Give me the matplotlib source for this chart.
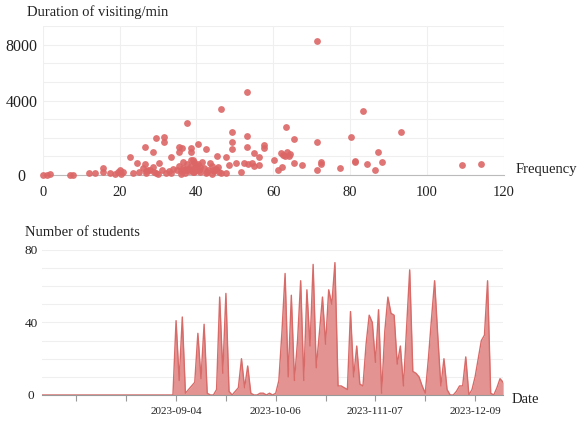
import numpy as np
import matplotlib.pyplot as plt

plt.rcParams["font.family"] = ["Liberation Serif", "DejaVu Serif"]

# ---- top chart: frequency vs duration (min) ----
freq = [0, 1, 2, 7, 8, 12, 13.5, 15.7, 15.7, 17.4, 18.7, 19.6, 20, 20.5, 21,
        22.6, 24.5, 23.4, 26.5, 26, 26.5, 27, 27.5, 26.8, 28.6, 29.5, 31.5, 31.5,
        28.6, 29.5, 30.3, 32, 33.5, 33.5, 35.5, 36.2, 35.5,
        35, 35.5, 36, 36.5, 37, 37.5, 36, 37.5, 38.5, 38.5, 38.5,
        38, 38.5, 39, 39.5, 40, 40.5, 41, 39, 40, 40.4, 42.4,
        41.5, 42, 43, 44, 44.5, 45, 46, 45.5, 43.5, 45.4, 46.5,
        47.6, 48.4, 46.3, 47.6, 49.3, 49.3, 49.3, 50.3, 51.5, 53.2, 53.2, 53.2,
        52.3, 53.5, 54.5, 55, 54.9, 56.2, 56.2, 57.5, 57.5, 60.1, 61.2,
        62, 62.5, 63, 63.5, 64, 64.5, 63.3, 62.2, 65.3, 65.3, 67.4,
        71.4, 71.4, 71.4, 72.4, 72.4, 77.3, 80.3, 81.4, 81.4, 83.4, 84.3,
        86.4, 87.2, 88.4, 93.3, 109.2, 114.2,
        25, 28, 30, 34, 37, 39.5, 41, 42.5, 44, 36.5, 38, 40, 33, 31, 29,
        36.8, 37.8, 39.2, 40.8, 42.8, 44.2]
duration = [20, 30, 40, 10, 20, 120, 90, 360, 180, 90, 50, 180, 270, 40, 150,
            950, 630, 90, 1520, 400, 600, 200, 300, 100, 1250, 1970, 2030, 1790,
            450, 90, 630, 90, 990, 90, 1520, 1430, 1250,
            300, 500, 200, 400, 100, 600, 50, 2810, 1430, 1250, 800,
            200, 500, 350, 700, 300, 600, 150, 800, 450, 1670, 1380,
            700, 400, 250, 500, 200, 350, 150, 450, 650, 1020, 3550,
            990, 540, 130, 90, 2330, 1760, 1400, 660, 140, 4640, 2100, 1520,
            630, 600, 650, 500, 1200, 990, 540, 1610, 1430, 810, 300,
            1200, 1100, 1050, 1250, 1000, 1150, 2560, 450, 1920, 660, 540,
            8250, 1760, 250, 680, 590, 390, 2060, 750, 680, 3460, 590,
            290, 1240, 700, 2310, 560, 590,
            150, 250, 60, 350, 250, 150, 420, 100, 80, 700, 350, 550, 200, 300, 150,
            250, 350, 150, 250, 150, 300]

x_ticks_top = [0, 20, 40, 60, 80, 100, 120]
y_ticks_top = [0, 4000, 8000]

# ---- bottom chart: daily number of students ----
start_date = "2023-07-23"
students = [0] * 42 + [
    0, 41, 8, 43, 1, 3, 5, 7, 34, 9, 39, 1, 0, 0, 3, 54, 12, 56, 2, 0,
    2, 4, 20, 4, 16, 1, 0, 0, 1, 1, 0, 1, 0, 1, 8, 35, 67, 10, 55, 8,
    30, 63, 8, 58, 27, 72, 15, 34, 54, 28, 58, 50, 73, 5, 5, 4, 3, 46, 10, 27,
    6, 5, 28, 44, 40, 18, 47, 1, 35, 54, 45, 44, 17, 27, 5, 37, 69, 13, 12, 10,
    5, 1, 20, 42, 63, 33, 5, 20, 3, 0, 0, 2, 5, 5, 21, 0, 3, 10, 20, 30,
    33, 63, 1, 0, 4, 9, 7]
date_tick_labels = ["", "", "2023-09-04", "", "2023-10-06", "", "2023-111-07", "", "2023-12-09"]


def fwd(y):
    y = np.asarray(y, dtype=float)
    return np.where(y <= 4000, y / 1000, 4 + (y - 4000) * 3 / 4000)


def inv(u):
    u = np.asarray(u, dtype=float)
    return np.where(u <= 4, u * 1000, 4000 + (u - 4) * 4000 / 3)


grid_c = "#efefef"
red = "#dc6666"

fig = plt.figure(figsize=(5.77, 4.25), dpi=100)

# top scatter
ax1 = fig.add_axes([0.074, 0.588, 0.799, 0.351])
ax1.set_yscale("function", functions=(fwd, inv))
ax1.scatter(freq, duration, s=24, color=red, alpha=0.9, linewidths=0, clip_on=False, zorder=3)
ax1.set_xlim(0, 120)
ax1.set_ylim(0, float(inv(8)))
ax1.set_xticks(x_ticks_top)
ax1.set_yticks(y_ticks_top)
ax1.set_yticks([float(v) for v in inv(np.arange(9))], minor=True)
ax1.grid(True, which="both", color=grid_c, lw=0.8)
ax1.set_axisbelow(True)
for s in ["top", "right", "left"]:
    ax1.spines[s].set_visible(False)
ax1.spines["bottom"].set_color("#bbbbbb")
ax1.tick_params(axis="both", which="both", length=0, labelsize=10.5, colors="#222222")
ax1.tick_params(axis="y", pad=15, labelsize=11.5)
ax1.tick_params(axis="x", pad=8)
for lbl in ax1.get_yticklabels():
    lbl.set_ha("center")
fig.text(0.047, 0.972, "Duration of visiting/min", fontsize=10.5, va="center", ha="left", color="#222222")
fig.text(0.893, 0.6, "Frequency", fontsize=10.5, va="center", ha="left", color="#222222")

# bottom area
ax2 = fig.add_axes([0.073, 0.0706, 0.799, 0.3414])
days = np.arange(len(students))
ax2.fill_between(days, students, color="#e39391", lw=0)
ax2.plot(days, students, color="#d86a68", lw=1)
ax2.set_xlim(0, len(students) - 1)
ax2.set_ylim(0, 80)
ax2.set_yticks([0, 40, 80])
ax2.set_yticks(np.arange(0, 81, 10), minor=True)
ax2.grid(True, axis="y", which="both", color=grid_c, lw=0.8)
ax2.set_axisbelow(True)
ax2.set_xticks(np.arange(11, len(students), 16))
ax2.set_xticklabels(date_tick_labels)
for s in ["top", "right", "left"]:
    ax2.spines[s].set_visible(False)
ax2.spines["bottom"].set_color("#999999")
ax2.tick_params(axis="x", length=4, color="#999999", pad=5, labelsize=8, colors="#222222")
ax2.tick_params(axis="x", color="#999999")
ax2.tick_params(axis="y", which="both", length=0, pad=8, labelsize=9.5, colors="#222222")
for lbl in ax2.get_yticklabels():
    lbl.set_ha("center")
fig.text(0.043, 0.452, "Number of students", fontsize=10.5, va="center", ha="left", color="#222222")
fig.text(0.887, 0.059, "Date", fontsize=10.5, va="center", ha="left", color="#222222")

fig.savefig("out.png", dpi=100)
